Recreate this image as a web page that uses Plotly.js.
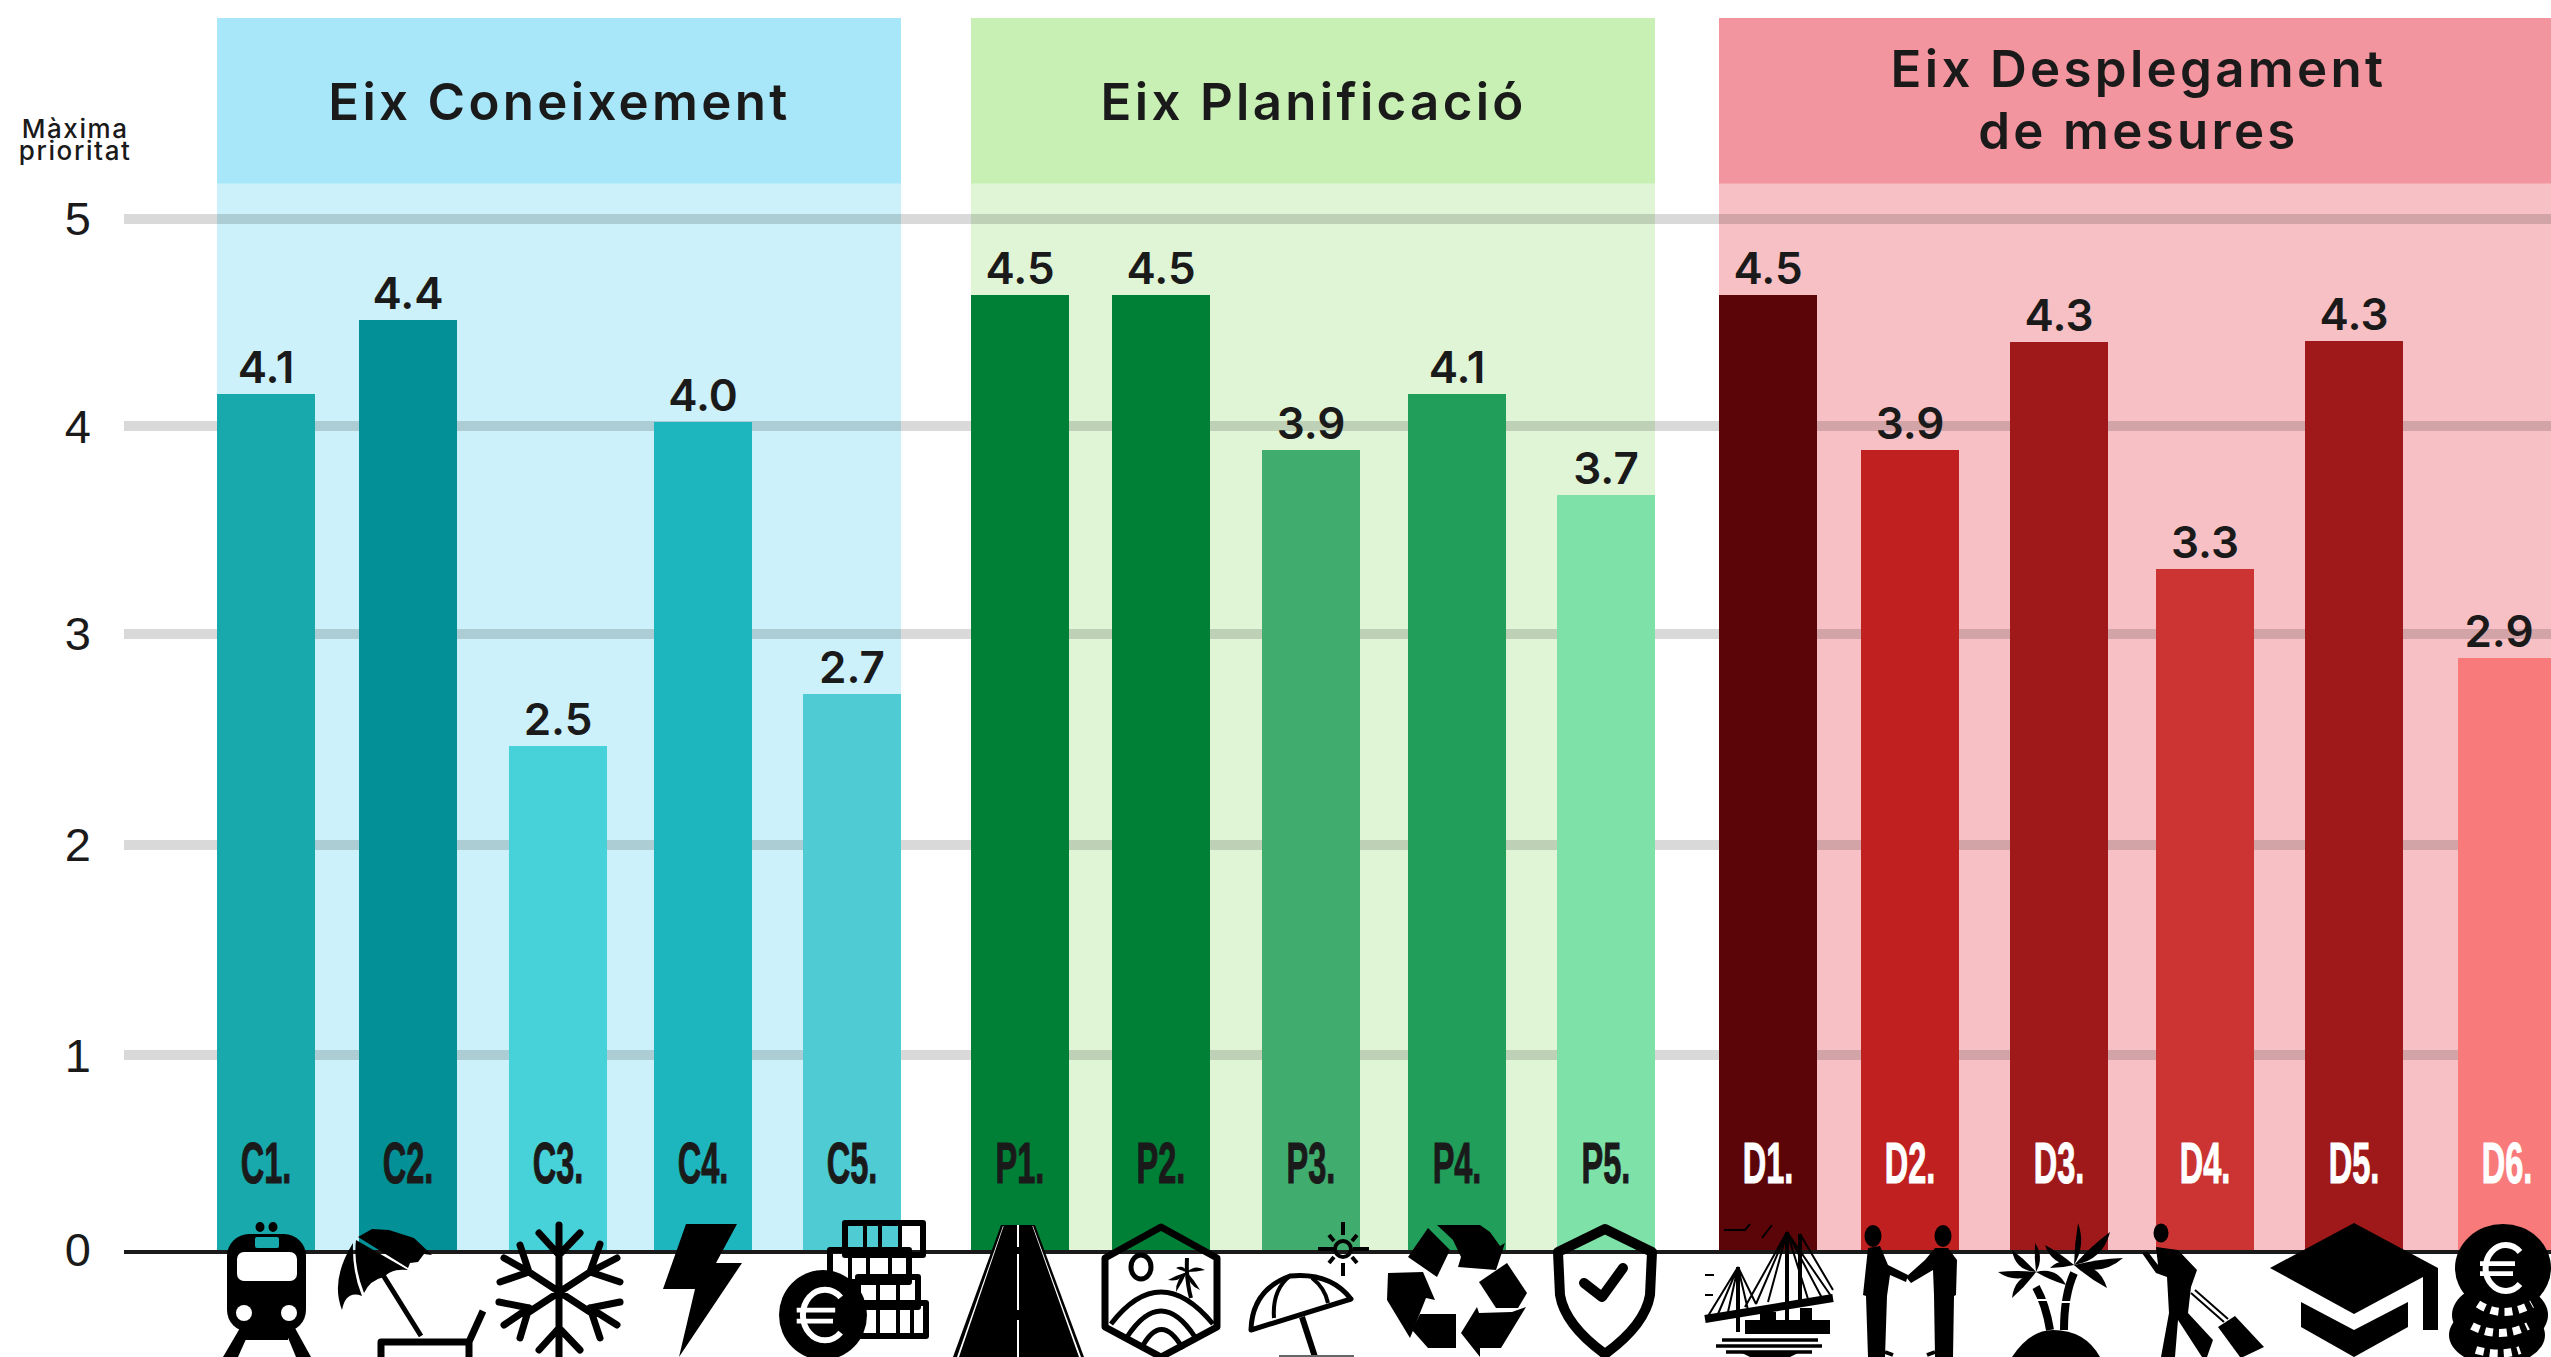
<!DOCTYPE html>
<html>
<head>
<meta charset="utf-8">
<script src="https://cdn.plot.ly/plotly-3.0.1.min.js"></script>
<style>
html,body{margin:0;padding:0;background:#fff;overflow:hidden}
.annotation text{letter-spacing:3.3px}
.annotation[data-index="0"] text{letter-spacing:1.6px}
.scatterlayer .textpoint text{transform-box:fill-box;transform-origin:center;transform:scaleX(.56);stroke:#1a1a1a;stroke-width:1.1px}
.scatterlayer .textpoint:nth-child(n+11) text{stroke:#fff}
.bars .point .bartext{translate:0 3px}
.bars .point:nth-child(16) .bartext{translate:-8px 3px}
</style>
</head>
<body>
<div id="chart" style="width:2551px;height:1357px"></div>
<script>
// ---- data -------------------------------------------------------------
const codes = ['C1.','C2.','C3.','C4.','C5.','P1.','P2.','P3.','P4.','P5.','D1.','D2.','D3.','D4.','D5.','D6.'];
const barHeights = [4.16,4.513,2.48,4.026,2.728,4.637,4.637,3.893,4.16,3.678,4.637,3.893,4.408,3.327,4.413,2.90];
const valueLabels = ['4.1','4.4','2.5','4.0','2.7','4.5','4.5','3.9','4.1','3.7','4.5','3.9','4.3','3.3','4.3','2.9'];
const barColors = ['#18A9AD','#039197','#47D1D9','#1EB6BE','#4FCCD3','#007F37','#007F37','#40AC6E','#219E5A','#7EE2A8','#5C0508','#C02020','#9F191A','#CC3333','#9F181A','#F87A7A'];
const codeColors = codes.map(c => c[0] === 'D' ? '#ffffff' : '#1a1a1a');
const axisTitles = ['Eix Coneixement','Eix Planificació','Eix Desplegament<br>de mesures'];
const priorityNote = 'Màxima<br>prioritat';
const tickLabels = ['0','1','2','3','4','5'];

// ---- layout constants --------------------------------------------------
const W = 2551, H = 1357, L = 124, T = 18, BASE = 1250;
const slotCenters = [266,408,558,703,852,1020,1161,1311,1457,1606,1768,1910,2059,2205,2354,2507];
const barWidth = 98;
const tickPositions = [0.0692,1,2.007,3.014,4.007,5];
const yRange = [0.0692,5.959];
const headerBottom = 5.167;
const codeLevel = 0.46;
const panels = [
  {x0:217,x1:901,head:'#A8E7F9',body:'#CCF1FA'},
  {x0:971,x1:1655,head:'#C8F0B5',body:'#E0F5D6'},
  {x0:1719,x1:2551,head:'#F3959E',body:'#F7C0C5'}
];
const px = x => (x-L)/(W-L);
const py = y => 1-(y-T)/(BASE-T);

// ---- icons (decoration under the axis) ----------------------------------
const K = '#000', Wh = '#fff';
const poly = (p,f=K) => `<polygon points="${p}" fill="${f}"/>`;
const ln = (d,w,c=K,cap='butt') => `<path d="${d}" fill="none" stroke="${c}" stroke-width="${w}" stroke-linecap="${cap}" stroke-linejoin="round"/>`;
const leaf = (cx,cy,tx,ty,b) => { const mx=(cx+tx)/2,my=(cy+ty)/2,dx=tx-cx,dy=ty-cy,l=Math.hypot(dx,dy),nx=-dy/l*b,ny=dx/l*b;
  return `<path d="M${cx} ${cy}Q${mx+nx} ${my+ny} ${tx} ${ty}Q${mx-nx*.15} ${my-ny*.15} ${cx} ${cy}Z" fill="#000"/>`; };
const euro = (cx,cy,r,w) => ln(`M${cx+r*.85} ${cy-r*.8}A${r} ${r*1.15} 0 1 0 ${cx+r*.85} ${cy+r*.8}`,w,Wh)+ln(`M${cx-r*1.15} ${cy-r*.22}H${cx+r*.6}M${cx-r*1.15} ${cy+r*.28}H${cx+r*.5}`,w*.8,Wh);

const train = `<ellipse cx="260" cy="1227" rx="4.5" ry="5"/><ellipse cx="273" cy="1227" rx="4.5" ry="5"/>
<rect x="227" y="1234" width="79" height="98" rx="22"/><rect x="255" y="1237" width="24" height="11" rx="2" fill="#18A9AD"/>
<rect x="237" y="1252" width="60" height="29" rx="7" fill="#fff"/><ellipse cx="244" cy="1313" rx="8" ry="8" fill="#fff"/><ellipse cx="289" cy="1313" rx="8" ry="8" fill="#fff"/>
${poly('240,1328 251,1328 238,1357 223,1357')}${poly('284,1328 295,1328 311,1357 296,1357')}<rect x="245" y="1328" width="43" height="12"/>`;
const beach = `${poly('358,1237 372,1229 389,1230 414,1238 432,1255 424,1254 418,1262 410,1263 408,1268')}
<path d="M356 1240L408 1270Q392 1268 384 1277Q370 1280 364 1293Q353 1265 356 1240Z"/>
<path d="M353 1243Q352 1272 362 1296Q346 1290 342 1310Q330 1280 353 1243Z"/>
${ln('M383 1275L421 1336',5)}${ln('M381 1357V1342H469V1357M468 1344L483 1311',7)}`;
const snow = ln(`M559 1225V1357M529 1272L590 1312M529 1312L590 1272M559 1255L539 1233M559 1255L580 1233M559 1328L539 1350M559 1328L580 1350
M529 1272L520 1245M529 1272L500 1282M529 1272L504 1258M590 1272L600 1244M590 1272L620 1282M590 1272L617 1258
M529 1308L520 1338M529 1308L499 1302M529 1308L504 1325M590 1308L600 1338M590 1308L620 1302M590 1308L617 1325`,7,K,'round');
const bolt = poly('686,1224 737,1224 716,1263 742,1263 679,1357 695,1289 663,1289');
const cash = ln('M845 1223h78v32h-78zM830 1250h79v32h-79zM858 1277h60v30h-60zM858 1303h68v33h-68z',6)
 +ln('M865 1225v30M880 1225v30M900 1225v30M850 1252v30M868 1252v30M890 1252v30M878 1279v28M898 1279v28M878 1305v30M898 1305v30M912 1305v30',4)
 +`<ellipse cx="823" cy="1315" rx="44" ry="45"/>`+euro(822,1315,22,6);
const road = poly('1001,1225 1035,1225 1084,1357 953,1357')+poly('1003,1226 1033,1226 1081,1357 957,1357',Wh)+poly('1004,1225 1032,1225 1079,1357 959,1357')
 +ln('M1018 1225V1247M1018 1254V1310M1018 1320V1357',2,Wh);
const hex = ln('M1161 1227L1217 1258V1327L1161 1357L1105 1327V1258Z',7)
 +`<ellipse cx="1141" cy="1267" rx="10" ry="12" fill="none" stroke="#000" stroke-width="5"/>`
 +ln('M1111 1324Q1160 1260 1213 1324M1127 1337Q1161 1285 1195 1337M1141 1349Q1161 1310 1183 1349',5)
 +ln('M1187 1258Q1186 1280 1191 1298',4)+leaf(1187,1272,1205,1270,-7)+leaf(1187,1272,1168,1280,-7)+leaf(1187,1272,1176,1268,6)+leaf(1187,1272,1200,1290,7)+leaf(1187,1272,1176,1292,7);
const parasol = ln('M1343 1222V1235M1343 1263V1276M1318 1249H1334M1353 1249H1369M1329 1235L1334 1241M1357 1235L1352 1241M1329 1263L1334 1257M1357 1263L1352 1257',4)
 +`<circle cx="1343" cy="1249" r="8" fill="none" stroke="#000" stroke-width="4"/>`
 +ln('M1251 1330Q1252 1290 1290 1276Q1330 1272 1351 1299Z',5)+ln('M1290 1276Q1272 1290 1274 1318M1312 1278Q1325 1288 1328 1303',4)
 +ln('M1302 1317L1315 1357',6)+ln('M1279 1356H1354',2,'#666');
const recycle = poly('1428,1228 1450,1250 1437,1277 1408,1257')+poly('1437,1225 1480,1225 1490,1232 1500,1246 1505,1243 1496,1270 1458,1267 1461,1257 1453,1240')
 +poly('1507,1263 1527,1293 1518,1308 1496,1308 1479,1282')+poly('1526,1307 1501,1348 1480,1348 1480,1357 1461,1333 1477,1307 1479,1313 1512,1312')
 +poly('1456,1314 1456,1348 1428,1348 1412,1330 1420,1314')+poly('1388,1273 1423,1272 1435,1300 1426,1298 1410,1338 1387,1300');
const shield = ln('M1605 1229L1652 1252L1650 1295Q1645 1325 1605 1354Q1565 1325 1560 1295L1558 1252Z',10)+ln('M1584 1283L1602 1297L1623 1268',10,K,'round');
const bridge = `<g stroke="#000" fill="none"><path d="M1787 1232V1332M1800 1234V1300M1738 1267V1332" stroke-width="4"/>
<path d="M1787 1232L1745 1307M1787 1232L1756 1304M1787 1232L1768 1302M1787 1232L1808 1299M1787 1232L1822 1298M1787 1232L1831 1296M1800 1234L1833 1290M1738 1267L1708 1316M1738 1267L1718 1314M1738 1267L1728 1312M1738 1267L1748 1310M1738 1267L1756 1304" stroke-width="2"/>
<path d="M1705 1319L1833 1298" stroke-width="8"/><path d="M1722 1340H1818M1716 1346H1822M1726 1352H1812" stroke-width="3.5"/>
<path d="M1705 1275H1714M1705 1295H1713M1724 1230H1745L1750 1224M1762 1238L1772 1225" stroke-width="2"/></g>
<rect x="1745" y="1320" width="85" height="14"/><rect x="1760" y="1312" width="16" height="10"/><rect x="1800" y="1308" width="12" height="14"/><path d="M1740 1352H1800L1790 1357H1750Z"/>`;
const deal = `<ellipse cx="1873" cy="1236" rx="8.5" ry="11"/><ellipse cx="1943" cy="1236" rx="8.5" ry="11"/>
${poly('1868,1248 1880,1246 1888,1265 1908,1275 1906,1282 1890,1275 1887,1296 1885,1357 1868,1357 1866,1296 1863,1295')}
${poly('1948,1248 1957,1260 1956,1295 1954,1296 1953,1357 1935,1357 1934,1295 1933,1270 1911,1283 1906,1277 1925,1260 1935,1248')}
${ln('M1885 1352L1893 1355M1935 1352L1927 1355',4)}`;
const palms = `<path d="M2012 1357Q2030 1330 2053 1330Q2085 1330 2100 1357Z"/>`
 +ln('M2036 1287Q2046 1305 2050 1330',8)+ln('M2074 1273Q2064 1295 2064 1330',8)+ln('M2030 1300H2060M2060 1302H2080',2,Wh)
 +[[2078,1223,10],[2110,1232,16],[2123,1258,16],[2107,1288,-16],[2045,1245,-13],[2050,1268,10]].map(t=>leaf(2074,1265,t[0],t[1],t[2])).join('')
 +[[2035,1243,9],[2012,1250,-13],[1998,1272,-13],[2012,1298,13],[2066,1285,-13]].map(t=>leaf(2036,1272,t[0],t[1],t[2])).join('');
const traveler = `<ellipse cx="2161" cy="1233" rx="7.5" ry="9.5"/>
${poly('2156,1247 2178,1250 2197,1270 2191,1287 2188,1313 2213,1340 2207,1357 2202,1357 2178,1320 2175,1357 2161,1357 2169,1313 2167,1277 2156,1273 2142,1253 2148,1252 2158,1265')}
${poly('2218,1327 2235,1316 2264,1347 2243,1357 2240,1357')}${ln('M2191 1293L2224 1322M2195 1290L2228 1319',2)}`;
const cap = poly('2354,1223 2438,1268 2438,1330 2423,1330 2423,1277 2354,1314 2270,1268')+poly('2301,1302 2354,1330 2408,1302 2408,1327 2354,1357 2301,1327');
const coins = `<ellipse cx="2497" cy="1335" rx="48" ry="30"/><ellipse cx="2500" cy="1315" rx="48" ry="32"/><ellipse cx="2503" cy="1268" rx="48" ry="44"/>`
 +ln('M2478 1304Q2503 1320 2532 1304',8,Wh).replace('stroke-linejoin','stroke-dasharray="8 6" stroke-linejoin')
 +ln('M2472 1326Q2500 1340 2528 1326',8,Wh).replace('stroke-linejoin','stroke-dasharray="8 6" stroke-linejoin')
 +ln('M2476 1350Q2500 1357 2520 1350',8,Wh).replace('stroke-linejoin','stroke-dasharray="8 6" stroke-linejoin')
 +euro(2503,1268,20,6);

const iconStrip = `<svg xmlns="http://www.w3.org/2000/svg" width="2551" height="142" viewBox="0 1215 2551 142">${train}${beach}${snow}${bolt}${cash}${road}${hex}${parasol}${recycle}${shield}${bridge}${deal}${palms}${traveler}${cap}${coins}</svg>`;

// ---- traces -------------------------------------------------------------
const bars = {
  type:'bar', x:slotCenters, y:barHeights, width:barWidth,
  marker:{color:barColors,line:{width:0}},
  text:valueLabels, textposition:'outside', textangle:0, constraintext:'none',
  textfont:{family:'Inter, Lato, sans-serif',size:44,weight:600,color:'#1a1a1a'},
  hoverinfo:'skip'
};
const codeText = {
  type:'scatter', mode:'text', x:slotCenters, y:codes.map(()=>codeLevel), text:codes,
  textposition:'middle center',
  textfont:{family:'"Liberation Sans Narrow","Liberation Sans",sans-serif',size:58,weight:700,color:codeColors},
  hoverinfo:'skip'
};

// ---- layout ---------------------------------------------------------------
const shapes = [];
panels.forEach(p=>{
  shapes.push({type:'rect',layer:'below',xref:'x',yref:'y',x0:p.x0,x1:p.x1,y0:yRange[0],y1:headerBottom,fillcolor:p.body,line:{width:0}});
  shapes.push({type:'rect',layer:'below',xref:'x',yref:'y',x0:p.x0,x1:p.x1,y0:headerBottom,y1:yRange[1],fillcolor:p.head,line:{width:0}});
});
const small = {family:'Inter, Lato, sans-serif',size:26,weight:500,color:'#1a1a1a'};
const big = {family:'Inter, Lato, sans-serif',size:51,weight:600,color:'#1a1a1a'};
const note = (x,y,text,font) => ({xref:'paper',yref:'paper',x:px(x),y:py(y),xanchor:'center',yanchor:'middle',text,showarrow:false,font});
const annotations = [
  note(75,145,priorityNote,small),
  note(559,101,axisTitles[0],big),
  note(1313,101,axisTitles[1],big),
  note(2138,101,axisTitles[2],big)
];
const layout = {
  width:W,height:H,margin:{l:L,r:0,t:T,b:H-BASE,pad:0},
  paper_bgcolor:'#fff',plot_bgcolor:'rgba(0,0,0,0)',showlegend:false,bargap:0,
  xaxis:{type:'linear',range:[L,W],showgrid:false,zeroline:false,showticklabels:false,ticks:'',showline:true,linecolor:'#1a1a1a',linewidth:4},
  yaxis:{type:'linear',range:yRange,tickmode:'array',tickvals:tickPositions,ticktext:tickLabels,
    showgrid:true,gridcolor:'rgba(0,0,0,0.15)',gridwidth:10,zeroline:false,showline:false,ticks:'',
    ticklabelstandoff:32,tickfont:{family:'"Liberation Sans",Arial,sans-serif',size:47,color:'#1a1a1a'}},
  shapes,annotations,
  images:[{source:'data:image/svg+xml;charset=utf-8,'+encodeURIComponent(iconStrip),xref:'paper',yref:'paper',
    x:px(0),y:py(1215),sizex:W/(W-L),sizey:142/(BASE-T),xanchor:'left',yanchor:'top',sizing:'stretch',layer:'above'}]
};
Plotly.newPlot('chart',[bars,codeText],layout,{displayModeBar:false,staticPlot:true}).then(()=>{
  // the reference sets its two-line texts tighter than Plotly's default line height
  document.querySelectorAll('.annotation').forEach(a=>{
    const i=a.getAttribute('data-index');
    const second=a.querySelectorAll('tspan.line')[1];
    if(second) second.setAttribute('dy', i==='0' ? '0.85em' : '1.21em');
  });
});
</script>
</body>
</html>
